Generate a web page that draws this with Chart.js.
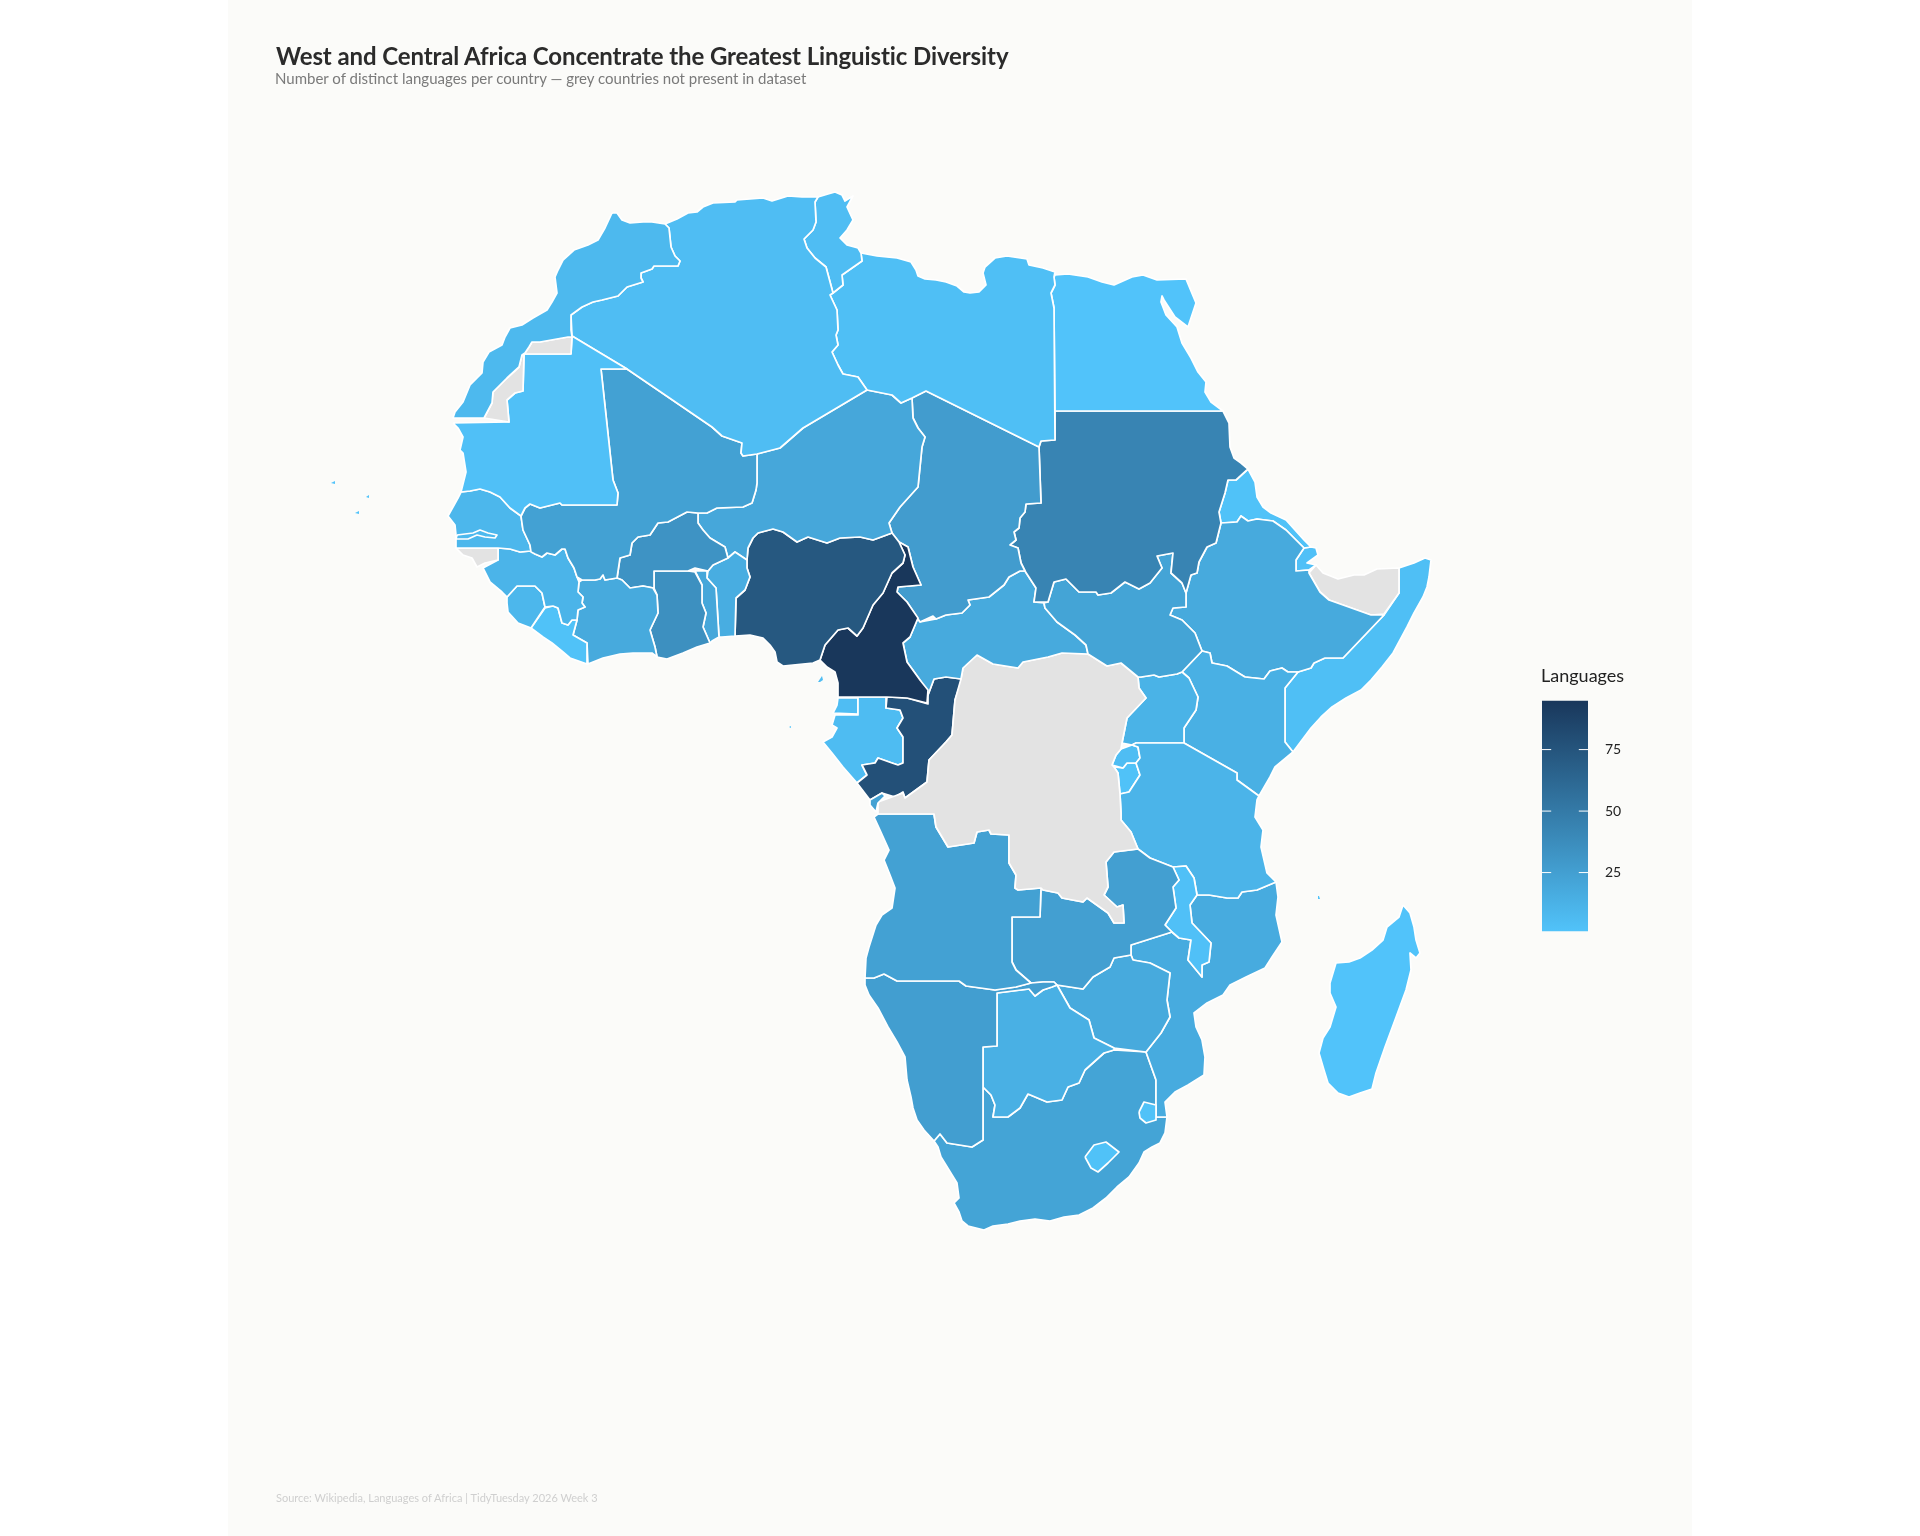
<!DOCTYPE html>
<html>
<head>
<meta charset="utf-8">
<title>Languages of Africa</title>
<script src="https://cdn.jsdelivr.net/npm/chart.js@4/dist/chart.umd.js"></script>
<style>
  html, body { margin: 0; background: #fff; }
  #page { position: relative; width: 1920px; height: 1536px; overflow: hidden; }
  #panel { position: absolute; left: 228px; top: 0; width: 1464px; height: 1536px; background: #fbfbf9; }
  #map { position: absolute; left: 0; top: 0; }
  #legendBar { position: absolute; left: 1530px; top: 675px; }
  .txt { position: absolute; white-space: nowrap; font-family: Lato, sans-serif; line-height: 1; }
  #title { left: 276px; top: 44px; font-size: 24px; font-weight: 700; color: #2b2b2b; letter-spacing: -0.1px; }
  #subtitle { left: 275px; top: 71px; font-size: 15px; color: #7a7a7a; }
  #source { left: 276px; top: 1492px; font-size: 11px; color: #cfcfcf; }
  #legendTitle { left: 1541px; top: 666px; font-size: 18px; color: #222; }
</style>
</head>
<body>
<div id="page">
  <div id="panel"></div>
  <canvas id="map" width="1920" height="1536"></canvas>
  <canvas id="legendBar" width="110" height="282"></canvas>
  <div class="txt" id="title">West and Central Africa Concentrate the Greatest Linguistic Diversity</div>
  <div class="txt" id="subtitle">Number of distinct languages per country — grey countries not present in dataset</div>
  <div class="txt" id="source">Source: Wikipedia, Languages of Africa | TidyTuesday 2026 Week 3</div>
  <div class="txt" id="legendTitle">Languages</div>
</div>
<script>
// Country names and language counts (null = grey, not in the dataset)
const countries = [
  "Gambia", "Lesotho", "Eswatini", "Cabinda", "Bioko", "Cape Verde 1", "Cape Verde 2", "Cape Verde 3", "Comoros", "Sao Tome",
  "Morocco", "Western Sahara", "Mauritania", "Algeria", "Tunisia", "Libya", "Egypt", "Mali", "Senegal", "Guinea-Bissau",
  "Guinea", "Sierra Leone", "Liberia", "Ivory Coast", "Burkina Faso", "Ghana", "Togo", "Benin", "Niger", "Nigeria",
  "Cameroon", "Chad", "Sudan", "South Sudan", "Central African Republic", "DR Congo", "Congo", "Gabon", "Equatorial Guinea", "Angola",
  "Namibia", "Botswana", "Zambia", "Zimbabwe", "Malawi", "Tanzania", "Mozambique", "South Africa", "Madagascar", "Uganda",
  "Kenya", "Ethiopia", "Eritrea", "Djibouti", "Somaliland", "Somalia", "Rwanda", "Burundi"
];
const languageCounts = [
  8, 2, 2, 24, 5, 1, 1, 1, 1, 1,
  8, null, 3, 5, 5, 4, 1, 24, 9, null,
  11, 9, 2, 18, 33, 35, 20, 16, 20, 73,
  95, 27, 43, 22, 18, null, 78, 6, 5, 24,
  26, 14, 25, 18, 3, 11, 17, 22, 1, 12,
  14, 18, 2, 3, null, 4, 5, 2
];

// Colour bar
const legendMin = 1;
const legendMax = 95;
const legendTicks = [25, 50, 75];

// Outlines in its own map units
const gambia = [[457,535],[473,533],[480,530],[488,533],[497,535],[495,538],[485,537],[477,535],[468,539],[456,539]];
const lesotho = [[1085,1157],[1094,1145],[1106,1142],[1119,1152],[1108,1163],[1098,1172],[1091,1168]];
const eswatini = [[1139,1112],[1144,1102],[1156,1105],[1156,1120],[1146,1123],[1140,1118]];
const cabinda = [[870,800],[882,793],[885,796],[878,803],[876,812],[870,805]];
const bioko = [[818,682],[822,676],[823,680],[820,682]];
const capeVerde1 = [[331,483],[335,481],[335,484]];
const capeVerde2 = [[366,497],[369,495],[369,498]];
const capeVerde3 = [[355,513],[359,511],[359,514]];
const comoros = [[1318,896],[1319,896],[1320,899],[1318,899]];
const saoTome = [[789,727],[791,726],[791,728]];
const morocco = [[612,213],[617,213],[622,220],[630,223],[643,222],[652,222],[665,224],[669,228],[671,247],[675,256],[680,261],[678,266],[654,266],[652,269],[641,273],[641,278],[643,282],[627,287],[618,296],[602,300],[593,302],[582,307],[571,315],[571,330],[572,337],[568,337],[540,342],[532,342],[529,347],[525,353],[522,355],[519,367],[507,378],[498,387],[493,392],[492,403],[484,418],[453,418],[455,412],[463,402],[470,385],[482,373],[483,362],[489,352],[502,345],[505,337],[510,328],[522,325],[533,318],[547,310],[552,302],[557,293],[555,277],[558,270],[563,260],[574,250],[588,245],[598,240],[605,228]];
const westernSahara = [[572,337],[568,337],[540,342],[532,342],[529,347],[525,353],[522,355],[519,367],[507,378],[498,387],[493,392],[492,403],[484,418],[509,422],[507,400],[515,393],[523,391],[524,354],[571,354]];
const mauritania = [[453,423],[509,422],[507,400],[515,393],[523,391],[524,354],[571,354],[572,336],[627,369],[601,369],[613,480],[618,493],[617,505],[562,505],[560,503],[540,508],[530,504],[525,508],[521,516],[510,508],[500,497],[490,492],[480,489],[470,491],[461,492],[466,472],[463,453],[460,450],[463,437],[458,428]];
const algeria = [[665,224],[677,219],[688,213],[697,212],[703,207],[713,203],[735,202],[737,200],[763,198],[772,201],[788,196],[802,197],[818,197],[815,202],[816,222],[813,230],[804,239],[807,248],[815,258],[826,267],[833,293],[830,295],[837,310],[838,330],[836,335],[838,345],[832,352],[838,365],[843,374],[858,377],[867,390],[803,428],[780,448],[757,454],[743,456],[741,453],[742,443],[722,436],[712,427],[627,369],[572,336],[571,315],[582,307],[593,302],[602,300],[618,296],[627,287],[643,282],[641,278],[641,273],[652,269],[654,266],[678,266],[680,261],[675,256],[671,247],[669,228]];
const tunisia = [[818,197],[828,194],[835,192],[842,195],[845,201],[853,196],[847,207],[853,220],[847,230],[840,238],[847,245],[858,248],[861,253],[862,261],[842,275],[843,285],[833,293],[826,267],[815,258],[807,248],[804,239],[813,230],[816,222],[815,202]];
const libya = [[861,253],[877,256],[897,258],[911,262],[916,270],[918,276],[925,279],[936,280],[946,282],[957,286],[964,292],[970,293],[979,292],[986,285],[983,273],[985,267],[995,258],[1007,256],[1027,259],[1029,265],[1043,268],[1055,272],[1054,277],[1055,285],[1051,293],[1054,308],[1055,440],[1041,441],[1039,447],[926,391],[912,398],[901,403],[892,395],[867,390],[858,377],[843,374],[838,365],[832,352],[838,345],[836,335],[838,330],[837,310],[830,295],[833,293],[843,285],[842,275],[862,261]];
const egypt = [[1055,275],[1068,274],[1088,277],[1102,282],[1114,285],[1132,277],[1143,275],[1157,280],[1186,279],[1196,303],[1188,327],[1175,317],[1164,300],[1162,296],[1161,302],[1166,315],[1177,327],[1182,343],[1191,358],[1198,372],[1206,382],[1205,392],[1211,402],[1223,411],[1055,411],[1054,308],[1051,293],[1055,285],[1054,277]];
const mali = [[601,369],[627,369],[712,427],[722,436],[742,443],[741,453],[743,456],[757,454],[757,483],[756,490],[752,503],[743,507],[717,508],[707,513],[698,513],[687,512],[668,522],[658,523],[650,535],[638,537],[632,543],[630,555],[620,558],[617,578],[605,580],[603,575],[600,579],[595,580],[582,580],[577,577],[574,568],[568,558],[565,549],[562,549],[555,555],[547,553],[542,557],[535,554],[531,552],[530,545],[523,530],[521,516],[525,508],[530,504],[540,508],[560,503],[562,505],[617,505],[618,493],[613,480]];
const senegal = [[461,492],[458,498],[448,516],[455,525],[456,535],[456,548],[498,548],[510,549],[520,552],[531,551],[530,545],[523,530],[521,516],[510,508],[500,497],[490,492],[480,489],[470,491]];
const guineaBissau = [[456,548],[498,548],[498,560],[485,563],[477,567],[472,558],[463,555]];
const guinea = [[498,548],[510,549],[520,552],[531,551],[535,554],[542,557],[547,553],[555,555],[562,549],[565,549],[568,558],[574,568],[577,577],[579,582],[578,592],[583,597],[582,603],[585,607],[578,610],[577,620],[572,620],[568,625],[562,623],[558,608],[553,606],[545,607],[542,593],[535,586],[517,586],[507,597],[502,592],[490,582],[483,568],[498,560]];
const sierraLeone = [[507,597],[517,586],[535,586],[542,593],[545,607],[531,628],[518,623],[508,612],[507,603]];
const liberia = [[531,628],[545,608],[553,606],[558,608],[562,623],[568,625],[572,620],[577,620],[573,635],[587,643],[587,664],[570,658],[563,652],[552,643],[543,637]];
const ivoryCoast = [[579,582],[582,580],[595,580],[600,579],[603,575],[605,580],[617,578],[622,580],[630,588],[643,586],[653,588],[657,595],[658,613],[650,630],[655,647],[657,657],[652,653],[633,653],[620,654],[603,658],[588,664],[587,643],[573,635],[577,620],[578,610],[585,607],[582,603],[583,597],[578,592]];
const burkinaFaso = [[698,513],[698,523],[703,530],[710,538],[725,547],[728,558],[713,565],[708,571],[695,568],[688,571],[654,571],[654,588],[643,586],[630,588],[622,580],[617,578],[620,558],[630,555],[632,543],[638,537],[650,535],[658,523],[668,522],[687,512]];
const ghana = [[654,571],[688,571],[695,572],[702,585],[702,603],[706,613],[703,627],[710,643],[697,647],[683,653],[667,659],[657,657],[655,647],[650,630],[658,613],[657,595],[654,588]];
const togo = [[695,571],[707,571],[707,578],[716,588],[719,637],[712,641],[710,643],[703,627],[706,613],[702,603],[702,585]];
const benin = [[708,571],[713,565],[728,558],[735,552],[747,560],[747,568],[750,577],[745,590],[736,598],[735,636],[722,637],[719,637],[716,588],[707,578]];
const niger = [[698,513],[707,513],[717,508],[743,507],[752,503],[756,490],[757,483],[757,454],[780,448],[803,428],[867,390],[892,395],[901,403],[912,398],[913,418],[918,428],[925,437],[922,447],[918,487],[900,507],[889,523],[892,533],[873,540],[860,537],[840,538],[827,543],[808,537],[797,542],[783,532],[773,529],[758,533],[753,538],[748,548],[747,560],[735,552],[728,558],[725,547],[710,538],[703,530],[698,523]];
const nigeria = [[747,560],[747,568],[750,577],[745,590],[736,598],[735,636],[750,635],[763,638],[770,645],[775,652],[777,662],[783,666],[813,663],[820,660],[825,645],[838,630],[848,628],[857,636],[863,628],[873,605],[883,593],[892,573],[903,563],[905,555],[899,542],[892,533],[873,540],[860,537],[840,538],[827,543],[808,537],[797,542],[783,532],[773,529],[758,533],[753,538],[748,548]];
const cameroon = [[820,660],[825,645],[838,630],[848,628],[857,636],[863,628],[873,605],[883,593],[892,573],[903,563],[905,555],[899,542],[908,547],[913,567],[921,585],[898,587],[897,592],[907,602],[918,618],[910,637],[903,643],[907,662],[920,680],[928,690],[927,703],[907,698],[887,697],[859,697],[838,697],[838,683],[835,672],[827,667]];
const chad = [[912,398],[926,391],[1039,447],[1041,503],[1026,504],[1025,512],[1020,518],[1019,528],[1014,532],[1016,540],[1010,545],[1018,548],[1021,563],[1025,571],[1020,571],[1009,577],[1004,585],[989,597],[968,600],[970,605],[962,613],[946,615],[936,619],[933,616],[920,622],[907,602],[897,592],[898,587],[921,585],[913,567],[908,547],[899,542],[892,533],[889,523],[900,507],[918,487],[922,447],[925,437],[918,428],[913,418]];
const sudan = [[1055,411],[1223,411],[1229,423],[1230,447],[1234,458],[1241,463],[1248,469],[1236,480],[1228,480],[1225,493],[1219,512],[1221,523],[1216,543],[1207,547],[1199,562],[1197,573],[1191,575],[1186,593],[1182,583],[1171,573],[1173,553],[1157,556],[1162,568],[1150,583],[1139,589],[1125,582],[1111,593],[1098,595],[1096,592],[1079,592],[1066,579],[1054,582],[1048,602],[1034,602],[1036,588],[1025,571],[1021,563],[1018,548],[1010,545],[1016,540],[1014,532],[1019,528],[1020,518],[1025,512],[1026,504],[1041,503],[1039,447],[1041,441],[1055,440]];
const southSudan = [[1044,603],[1048,602],[1054,582],[1066,579],[1079,592],[1096,592],[1098,595],[1111,593],[1125,582],[1139,589],[1150,583],[1162,568],[1157,556],[1173,553],[1171,573],[1182,583],[1186,593],[1186,607],[1173,608],[1170,615],[1182,620],[1195,633],[1202,651],[1182,672],[1177,674],[1159,677],[1154,675],[1141,677],[1138,677],[1121,663],[1107,666],[1088,654],[1086,645],[1075,635],[1057,622],[1045,608]];
const car = [[920,622],[936,619],[946,615],[962,613],[970,605],[968,600],[989,597],[1004,585],[1009,577],[1020,571],[1025,571],[1036,588],[1034,602],[1044,603],[1045,608],[1057,622],[1075,635],[1086,645],[1088,654],[1062,653],[1048,657],[1023,662],[1018,668],[993,664],[977,655],[963,668],[961,679],[946,677],[934,679],[928,695],[920,680],[907,662],[903,643],[910,637],[918,618]];
const drCongo = [[961,679],[963,668],[977,655],[993,664],[1018,668],[1023,662],[1048,657],[1062,653],[1088,654],[1107,666],[1121,663],[1138,677],[1139,688],[1146,698],[1127,718],[1122,743],[1121,749],[1116,755],[1112,765],[1114,767],[1118,773],[1120,794],[1121,813],[1121,820],[1131,832],[1138,849],[1114,852],[1106,862],[1108,887],[1104,895],[1117,907],[1123,905],[1124,923],[1114,923],[1108,913],[1087,898],[1083,902],[1062,898],[1058,893],[1043,890],[1041,888],[1018,890],[1015,888],[1016,875],[1009,863],[1009,835],[991,834],[989,830],[977,832],[974,843],[948,847],[936,827],[934,814],[878,814],[878,802],[892,797],[903,793],[905,798],[927,782],[929,760],[946,742],[952,735],[955,700]];
const congo = [[962,679],[946,677],[934,679],[928,695],[928,704],[907,698],[887,697],[886,708],[900,710],[903,718],[897,728],[903,737],[903,763],[898,765],[892,763],[878,758],[875,763],[862,765],[867,775],[857,783],[870,800],[882,793],[895,797],[903,792],[905,798],[927,782],[929,760],[946,742],[952,735],[955,700]];
const gabon = [[858,697],[886,697],[886,708],[900,710],[903,718],[897,728],[903,737],[903,763],[898,765],[892,763],[878,758],[875,763],[862,765],[867,775],[857,783],[843,767],[832,753],[823,742],[832,737],[837,728],[832,725],[835,715],[858,715]];
const equatorialGuinea = [[838,698],[858,698],[858,714],[833,713],[837,705]];
const angola = [[874,817],[878,814],[934,814],[936,827],[948,847],[974,843],[977,832],[989,830],[991,834],[1009,835],[1009,863],[1016,875],[1015,888],[1018,890],[1041,888],[1040,917],[1012,917],[1012,962],[1016,970],[1031,983],[1016,987],[995,990],[966,986],[959,981],[897,981],[884,974],[874,978],[865,978],[866,958],[869,947],[876,925],[882,915],[892,908],[895,888],[890,875],[884,860],[889,850],[880,830]];
const namibia = [[865,978],[874,978],[884,974],[897,981],[959,981],[966,986],[995,990],[1016,987],[1031,983],[1043,982],[1054,982],[1057,985],[1052,987],[1043,990],[1035,996],[1029,989],[997,993],[997,1046],[983,1047],[983,1140],[972,1147],[947,1143],[940,1134],[934,1141],[924,1130],[917,1120],[913,1108],[911,1097],[907,1080],[905,1057],[897,1042],[888,1027],[878,1008],[869,995],[865,985]];
const botswana = [[997,993],[1029,989],[1035,996],[1043,990],[1052,987],[1057,985],[1070,1008],[1089,1020],[1094,1038],[1114,1048],[1114,1050],[1104,1053],[1085,1070],[1079,1083],[1068,1087],[1062,1100],[1047,1102],[1028,1094],[1020,1108],[1008,1117],[993,1117],[995,1105],[991,1095],[983,1087],[983,1047],[997,1046]];
const zambia = [[1138,849],[1114,852],[1106,862],[1108,887],[1104,895],[1117,907],[1123,905],[1124,923],[1114,923],[1108,913],[1087,898],[1083,902],[1062,898],[1058,893],[1043,890],[1041,888],[1040,917],[1012,917],[1012,962],[1016,970],[1031,983],[1043,982],[1054,982],[1057,985],[1083,989],[1093,977],[1110,967],[1114,958],[1131,955],[1131,945],[1172,932],[1165,925],[1176,908],[1173,887],[1179,880],[1173,867],[1150,858]];
const zimbabwe = [[1057,985],[1070,1008],[1089,1020],[1094,1038],[1114,1048],[1146,1052],[1161,1033],[1170,1017],[1167,1000],[1170,973],[1150,963],[1133,960],[1131,955],[1114,958],[1110,967],[1093,977],[1083,989]];
const malawi = [[1173,867],[1186,866],[1194,878],[1197,895],[1190,905],[1192,923],[1211,943],[1209,962],[1202,965],[1202,977],[1188,960],[1191,940],[1179,938],[1172,932],[1165,925],[1176,908],[1173,887],[1179,880]];
const tanzania = [[1184,743],[1136,743],[1132,745],[1138,747],[1140,758],[1136,763],[1140,775],[1129,792],[1120,794],[1121,813],[1121,820],[1131,832],[1138,849],[1150,858],[1173,867],[1186,866],[1194,878],[1197,895],[1209,895],[1227,898],[1238,898],[1242,892],[1257,890],[1276,882],[1267,873],[1261,847],[1263,830],[1255,817],[1257,800],[1259,796],[1237,780],[1237,773]];
const mozambique = [[1276,882],[1278,897],[1276,915],[1282,942],[1272,957],[1265,968],[1246,977],[1230,985],[1223,995],[1207,1003],[1194,1013],[1196,1027],[1202,1040],[1205,1057],[1204,1075],[1188,1085],[1175,1092],[1165,1102],[1167,1117],[1156,1117],[1156,1080],[1146,1052],[1161,1033],[1170,1017],[1167,1000],[1170,973],[1150,963],[1133,960],[1131,955],[1131,945],[1172,932],[1179,938],[1191,940],[1188,960],[1202,977],[1202,965],[1209,962],[1211,943],[1192,923],[1190,905],[1197,895],[1209,895],[1227,898],[1238,898],[1242,892],[1257,890]];
const southAfrica = [[983,1087],[991,1095],[995,1105],[993,1117],[1008,1117],[1020,1108],[1028,1094],[1047,1102],[1062,1100],[1068,1087],[1079,1083],[1085,1070],[1104,1053],[1114,1050],[1146,1052],[1156,1080],[1156,1117],[1167,1117],[1165,1133],[1160,1143],[1152,1147],[1144,1152],[1139,1163],[1129,1177],[1117,1187],[1106,1198],[1093,1208],[1079,1215],[1064,1217],[1050,1221],[1035,1219],[1020,1221],[1008,1224],[993,1226],[984,1230],[976,1228],[968,1226],[962,1221],[959,1212],[954,1203],[959,1198],[957,1183],[949,1170],[941,1157],[938,1147],[934,1141],[940,1134],[947,1143],[972,1147],[983,1140]];
const madagascar = [[1403,905],[1410,913],[1414,927],[1416,940],[1420,953],[1416,958],[1410,953],[1411,970],[1406,990],[1395,1020],[1385,1047],[1376,1073],[1372,1089],[1360,1093],[1349,1097],[1338,1093],[1328,1083],[1324,1070],[1319,1053],[1323,1038],[1330,1027],[1336,1007],[1330,993],[1330,983],[1336,963],[1349,962],[1360,958],[1372,950],[1383,940],[1387,927],[1399,917]];
const uganda = [[1138,677],[1141,677],[1154,675],[1159,677],[1177,674],[1182,672],[1189,678],[1198,697],[1196,710],[1184,728],[1184,743],[1136,743],[1132,745],[1122,743],[1127,718],[1146,698],[1139,688]];
const kenya = [[1202,651],[1210,653],[1212,663],[1227,666],[1245,677],[1264,679],[1270,671],[1282,668],[1288,672],[1298,672],[1285,688],[1285,742],[1293,752],[1275,767],[1270,777],[1259,796],[1237,780],[1237,773],[1184,743],[1184,728],[1196,710],[1198,697],[1189,678],[1182,672]];
const ethiopia = [[1221,523],[1237,522],[1241,516],[1248,521],[1257,519],[1273,521],[1286,530],[1304,548],[1296,560],[1296,571],[1309,570],[1309,573],[1320,592],[1329,600],[1371,615],[1384,615],[1343,658],[1325,658],[1314,663],[1311,668],[1298,672],[1288,672],[1282,668],[1270,671],[1264,679],[1245,677],[1227,666],[1212,663],[1210,653],[1202,651],[1195,633],[1182,620],[1170,615],[1173,608],[1186,607],[1186,593],[1191,575],[1197,573],[1199,562],[1207,547],[1216,543]];
const eritrea = [[1248,469],[1255,482],[1257,497],[1263,507],[1271,513],[1286,520],[1304,540],[1311,547],[1304,548],[1286,530],[1273,521],[1257,519],[1248,521],[1241,516],[1237,522],[1221,523],[1219,512],[1225,493],[1228,480],[1236,480]];
const djibouti = [[1304,548],[1311,547],[1316,548],[1318,555],[1307,563],[1316,565],[1309,570],[1296,571],[1296,560]];
const somaliland = [[1309,573],[1316,565],[1323,573],[1338,579],[1354,575],[1364,575],[1377,569],[1399,568],[1399,593],[1384,614],[1371,615],[1329,600],[1320,592]];
const somalia = [[1399,568],[1414,563],[1425,558],[1431,560],[1429,577],[1427,587],[1423,597],[1414,613],[1407,627],[1400,640],[1393,653],[1382,667],[1371,680],[1361,690],[1346,698],[1332,707],[1321,717],[1311,728],[1302,740],[1293,752],[1285,742],[1285,688],[1298,672],[1311,668],[1314,663],[1325,658],[1343,658],[1384,615],[1399,593]];
const rwanda = [[1132,745],[1138,747],[1140,758],[1136,763],[1127,763],[1123,768],[1112,765],[1116,755],[1121,749]];
const burundi = [[1123,768],[1127,763],[1136,763],[1140,775],[1129,792],[1120,794],[1118,773],[1114,767]];

const outlines = [
  gambia, lesotho, eswatini, cabinda, bioko, capeVerde1, capeVerde2, capeVerde3, comoros, saoTome,
  morocco, westernSahara, mauritania, algeria, tunisia, libya, egypt, mali, senegal, guineaBissau,
  guinea, sierraLeone, liberia, ivoryCoast, burkinaFaso, ghana, togo, benin, niger, nigeria,
  cameroon, chad, sudan, southSudan, car, drCongo, congo, gabon, equatorialGuinea, angola,
  namibia, botswana, zambia, zimbabwe, malawi, tanzania, mozambique, southAfrica, madagascar, uganda,
  kenya, ethiopia, eritrea, djibouti, somaliland, somalia, rwanda, burundi
];

const lowColor = [81, 195, 250];
const highColor = [25, 55, 91];
const missingColor = '#e3e3e3';
const specks = ["Bioko", "Cape Verde 1", "Cape Verde 2", "Cape Verde 3", "Comoros", "Sao Tome"];

// Colour for a language count, light blue to dark navy
function fillFor(count) {
  if (count === null) return missingColor;
  const t = (count - legendMin) / (legendMax - legendMin);
  const rgb = lowColor.map((c, i) => Math.round(c + (highColor[i] - c) * t));
  return 'rgb(' + rgb.join(',') + ')';
}

function closedPoints(outline) {
  const pts = outline.map(p => ({ x: p[0], y: p[1] }));
  pts.push({ x: outline[0][0], y: outline[0][1] });
  return pts;
}

// The map
new Chart(document.getElementById('map'), {
  type: 'scatter',
  data: {
    datasets: countries.map((name, i) => ({
      label: name,
      data: closedPoints(outlines[i]),
      showLine: true,
      fill: 'shape',
      tension: 0,
      pointRadius: 0,
      borderWidth: specks.includes(name) ? 0 : 1.7,
      borderColor: '#ffffff',
      borderJoinStyle: 'round',
      backgroundColor: fillFor(languageCounts[i])
    }))
  },
  options: {
    responsive: false,
    animation: false,
    devicePixelRatio: 1,
    layout: { padding: 0 },
    plugins: { legend: { display: false }, tooltip: { enabled: false } },
    scales: {
      x: { type: 'linear', min: 0, max: 1920, display: false },
      y: { type: 'linear', min: 0, max: 1536, reverse: true, display: false }
    }
  }
});

// The colour bar, with the white tick marks on both edges
const tickDatasets = [];
legendTicks.forEach(function(v) {
  [[0, 0.2], [0.8, 1]].forEach(function(span) {
    tickDatasets.push({
      data: [{ x: span[0], y: v }, { x: span[1], y: v }],
      showLine: true,
      fill: false,
      pointRadius: 0,
      borderWidth: 1,
      borderColor: '#ffffff'
    });
  });
});

new Chart(document.getElementById('legendBar'), {
  type: 'scatter',
  data: {
    datasets: tickDatasets.concat([{
      data: [{ x: 0, y: legendMin }, { x: 1, y: legendMin }, { x: 1, y: legendMax }, { x: 0, y: legendMax }, { x: 0, y: legendMin }],
      showLine: true,
      fill: 'shape',
      pointRadius: 0,
      borderWidth: 0,
      backgroundColor: function(c) {
        const a = c.chart.chartArea;
        if (!a) return fillFor(legendMin);
        const g = c.chart.ctx.createLinearGradient(0, a.bottom, 0, a.top);
        g.addColorStop(0, fillFor(legendMin));
        g.addColorStop(1, fillFor(legendMax));
        return g;
      }
    }])
  },
  options: {
    responsive: false,
    animation: false,
    devicePixelRatio: 1,
    layout: { autoPadding: false, padding: { left: 12, right: 0 } },
    plugins: { legend: { display: false }, tooltip: { enabled: false } },
    scales: {
      x: { type: 'linear', min: 0, max: 1, display: false },
      y: {
        type: 'linear',
        position: 'right',
        min: legendMin,
        max: legendMax,
        grid: { display: false, drawTicks: false },
        border: { display: false },
        afterBuildTicks: function(axis) { axis.ticks = legendTicks.map(v => ({ value: v })); },
        afterFit: function(axis) { axis.width = 52; },
        ticks: { padding: 17, color: '#222222', font: { family: 'Lato', size: 14 } }
      }
    }
  }
});
</script>
</body>
</html>
